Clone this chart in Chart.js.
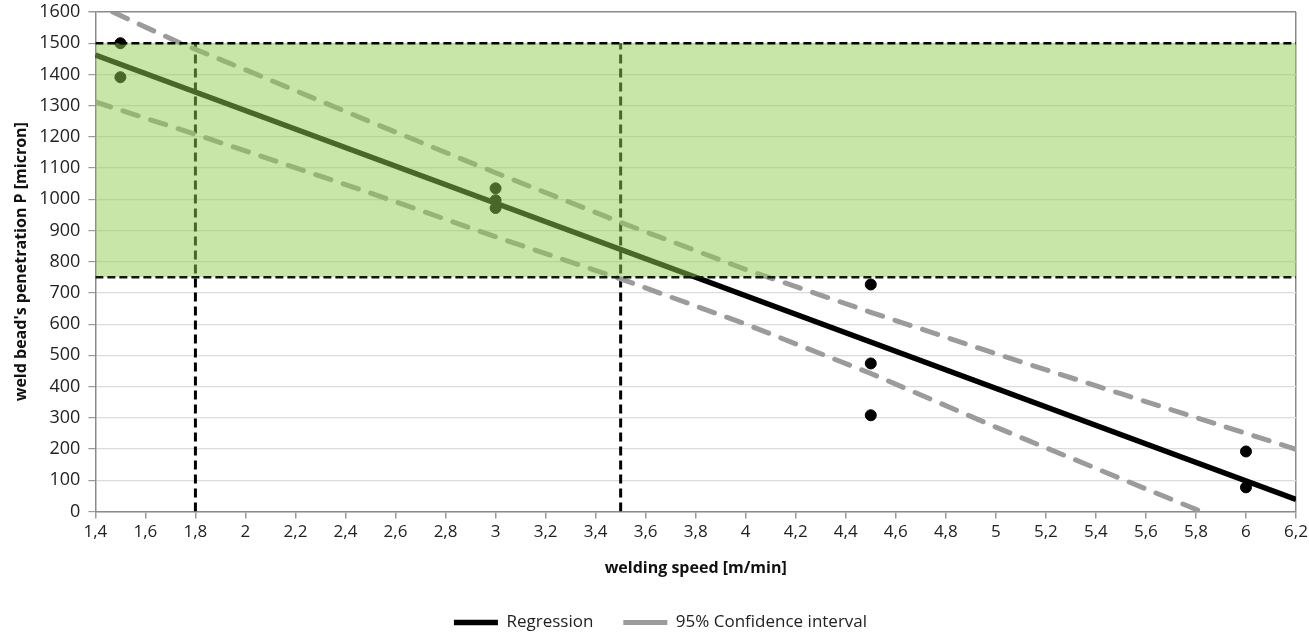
<!DOCTYPE html>
<html>
<head>
<meta charset="utf-8">
<script src="https://cdn.jsdelivr.net/npm/chart.js@4.4.1/dist/chart.umd.min.js"></script>
<style>
  html, body { margin: 0; padding: 0; background: #fff; }
  #wrap { width: 1309px; height: 638px; }
</style>
</head>
<body>
<div id="wrap"><canvas id="weldChart"></canvas></div>
<script>
// values
const regSpeed = [1.4, 6.2]
const regPen = [1462, 38]

const upperSpeed = [1.47, 1.74, 2, 2.5, 3, 3.5, 4, 4.5, 5, 5.5, 6, 6.2]
const upperPen = [1600, 1500, 1415, 1248, 1085, 926, 775, 638, 505, 377, 250, 199]

const lowerSpeed = [1.4, 1.8, 2, 2.5, 3, 3.5, 4, 4.5, 5, 5.5, 5.82]
const lowerPen = [1312, 1208, 1155, 1020, 880, 745, 600, 442, 270, 105, 0]

const sampleSpeed = [1.5, 1.5, 3, 3, 3, 4.5, 4.5, 4.5, 6, 6]
const samplePen = [1500, 1391, 1035, 997, 972, 727, 474, 308, 192, 77]

// process window
const windowPen = [750, 1500]
const windowSpeed = [1.8, 3.5]
const speedRange = [1.4, 6.2]

const pts = (xs, ys) => xs.map((x, i) => ({ x, y: ys[i] }))
const fmt = v => {
  const s = Number(v).toFixed(1)
  return (s.endsWith('.0') ? s.slice(0, -2) : s).replace('.', ',')
}

const FONT = "'Open Sans', 'DejaVu Sans', sans-serif"
const ciStyle = {
  borderColor: '#9b9b9b',
  borderWidth: 5,
  borderDash: [16, 13],
  borderCapStyle: 'round',
  pointRadius: 0,
  pointStyle: 'line',
  fill: false,
  order: 2
}

const data = {
  datasets: [
    {
      label: 'Regression',
      data: pts(regSpeed, regPen),
      borderColor: '#000',
      borderWidth: 5.5,
      pointRadius: 0,
      pointStyle: 'line',
      fill: false,
      order: 2
    },
    Object.assign({ label: '95% Confidence interval', data: pts(upperSpeed, upperPen) }, ciStyle),
    Object.assign({ label: 'lower', data: pts(lowerSpeed, lowerPen) }, ciStyle),
    {
      label: 'samples',
      type: 'scatter',
      data: pts(sampleSpeed, samplePen),
      backgroundColor: '#000',
      borderColor: '#000',
      pointRadius: 5.5,
      order: 2
    },
    {
      label: 'v1',
      data: pts([windowSpeed[0], windowSpeed[0]], [0, windowPen[1]]),
      borderColor: '#000',
      borderWidth: 3,
      borderDash: [9, 5],
      pointRadius: 0,
      fill: false,
      order: 2
    },
    {
      label: 'v2',
      data: pts([windowSpeed[1], windowSpeed[1]], [0, windowPen[1]]),
      borderColor: '#000',
      borderWidth: 3,
      borderDash: [9, 5],
      pointRadius: 0,
      fill: false,
      order: 2
    },
    {
      label: 'top',
      data: pts(speedRange, [windowPen[1], windowPen[1]]),
      borderColor: '#000',
      borderWidth: 2.5,
      borderDash: [8, 4],
      pointRadius: 0,
      backgroundColor: 'rgba(146, 205, 80, 0.5)',
      fill: '+1',
      order: 1
    },
    {
      label: 'bottom',
      data: pts(speedRange, [windowPen[0], windowPen[0]]),
      borderColor: '#0e1a08',
      borderWidth: 2.5,
      borderDash: [8, 4],
      pointRadius: 0,
      fill: false,
      order: 0
    }
  ]
}

const options = {
  responsive: true,
  maintainAspectRatio: false,
  animation: false,
  layout: { padding: { left: 12, right: 0, top: 0, bottom: -3 } },
  plugins: {
    tooltip: { enabled: false },
    legend: {
      position: 'bottom',
      labels: {
        usePointStyle: true,
        pointStyleWidth: 44,
        boxHeight: 5,
        padding: 30,
        color: '#222',
        font: { family: FONT, size: 17 },
        filter: item => item.datasetIndex < 2
      }
    }
  },
  scales: {
    x: {
      type: 'linear',
      min: speedRange[0],
      max: speedRange[1],
      afterFit: scale => { scale.paddingRight = 13 },
      ticks: {
        stepSize: 0.2,
        callback: v => fmt(v),
        color: '#222',
        font: { family: FONT, size: 17 },
        padding: 4,
        maxRotation: 0,
        autoSkip: false
      },
      grid: {
        color: ctx => (ctx.index === 24 ? '#8a8a8a' : 'rgba(0,0,0,0)'),
        tickColor: '#9a9a9a',
        tickLength: 7,
        lineWidth: 1.5
      },
      border: { color: '#8a8a8a', width: 1.5 },
      title: {
        display: true,
        text: 'welding speed [m/min]',
        color: '#111',
        font: { family: FONT, size: 16, weight: 'bold' },
        padding: { top: 12, bottom: 6 }
      }
    },
    y: {
      min: 0,
      max: 1600,
      afterFit: scale => { scale.paddingTop = 12 },
      ticks: {
        stepSize: 100,
        callback: v => String(v),
        color: '#222',
        font: { family: FONT, size: 18 },
        padding: 8
      },
      grid: {
        color: ctx => (ctx.tick.value === 1600 ? '#8a8a8a' : '#dcdcdc'),
        tickColor: '#9a9a9a',
        tickLength: 7,
        lineWidth: ctx => (ctx.tick.value === 1600 ? 1.5 : 1.2)
      },
      border: { color: '#8a8a8a', width: 1.5 },
      title: {
        display: true,
        text: "weld bead's penetration P [micron]",
        color: '#111',
        font: { family: FONT, size: 16, weight: 'bold' },
        padding: { top: 0, bottom: 0 }
      }
    }
  }
}

new Chart(document.getElementById('weldChart').getContext('2d'), {
  type: 'line',
  data,
  options
})
</script>
</body>
</html>
